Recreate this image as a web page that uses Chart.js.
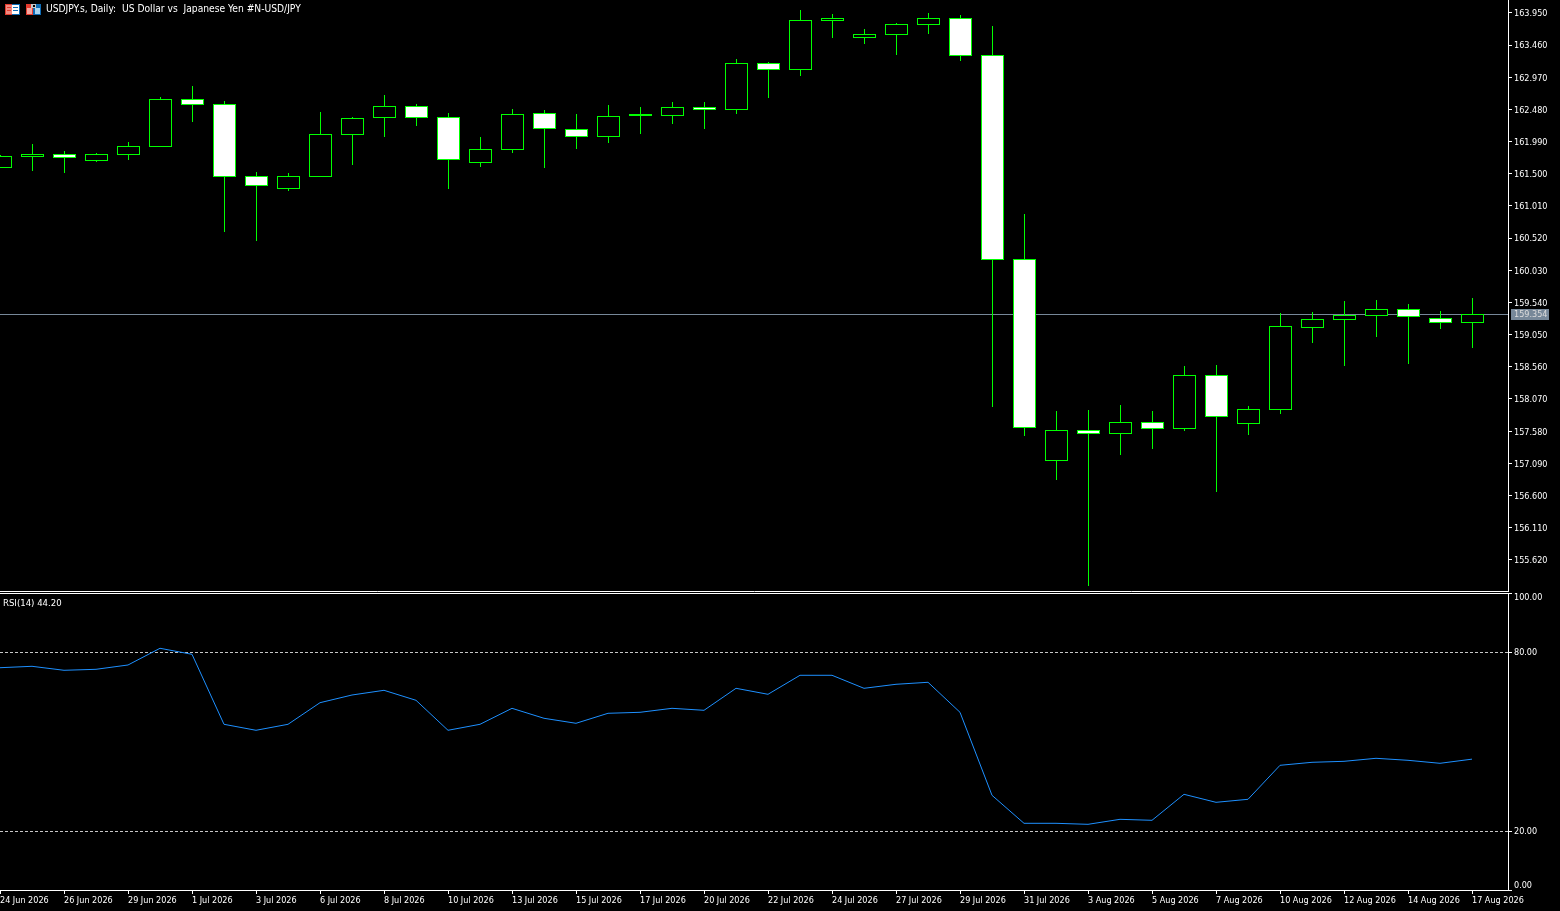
<!DOCTYPE html>
<html>
<head>
<meta charset="utf-8">
<title>USDJPY.s Daily</title>
<script src="https://cdn.jsdelivr.net/npm/chart.js@4"></script>
<style>
  html, body { margin: 0; padding: 0; background: #000; overflow: hidden; }
  #wrap { position: relative; width: 1560px; height: 911px; }
  #wrap div { position: absolute; left: 0; width: 1560px; }
  #pricePane { top: 0; height: 593px; }
  #rsiPane { top: 593px; height: 318px; }
</style>
</head>
<body>
<div id="wrap">
  <div id="pricePane"><canvas id="price"></canvas></div>
  <div id="rsiPane"><canvas id="rsi"></canvas></div>
</div>
<script>
const dates = ['24 Jun 2026','25 Jun 2026','26 Jun 2026','28 Jun 2026','29 Jun 2026','30 Jun 2026',
  '1 Jul 2026','2 Jul 2026','3 Jul 2026','5 Jul 2026','6 Jul 2026','7 Jul 2026','8 Jul 2026','9 Jul 2026','10 Jul 2026',
  '12 Jul 2026','13 Jul 2026','14 Jul 2026','15 Jul 2026','16 Jul 2026','17 Jul 2026','19 Jul 2026','20 Jul 2026',
  '21 Jul 2026','22 Jul 2026','23 Jul 2026','24 Jul 2026','26 Jul 2026','27 Jul 2026','28 Jul 2026','29 Jul 2026',
  '30 Jul 2026','31 Jul 2026','2 Aug 2026','3 Aug 2026','4 Aug 2026','5 Aug 2026','6 Aug 2026','7 Aug 2026',
  '9 Aug 2026','10 Aug 2026','11 Aug 2026','12 Aug 2026','13 Aug 2026','14 Aug 2026','16 Aug 2026','17 Aug 2026'];

const opens = [161.600,161.768,161.798,161.707,161.798,161.920,162.636,162.560,161.463,161.281,161.463,162.103,
  162.362,162.529,162.362,161.677,161.874,162.423,162.179,162.066,162.382,162.386,162.514,162.484,163.184,
  163.093,163.833,163.580,163.626,163.778,163.869,163.306,160.199,157.138,157.595,157.550,157.717,157.626,
  158.433,157.702,157.915,159.164,159.286,159.347,159.438,159.301,159.240];
const closes = [161.768,161.798,161.753,161.798,161.920,162.636,162.560,161.463,161.326,161.463,162.103,162.346,
  162.529,162.362,161.722,161.874,162.407,162.188,162.066,162.377,162.397,162.514,162.477,163.184,163.093,
  163.839,163.869,163.626,163.778,163.869,163.306,160.199,157.635,157.595,157.550,157.717,157.626,158.433,
  157.802,157.915,159.179,159.286,159.347,159.438,159.331,159.240,159.362];
const highs = [161.780,161.955,161.849,161.818,161.986,162.671,162.838,162.610,161.529,161.514,162.442,162.366,
  162.701,162.564,162.427,162.062,162.488,162.473,162.412,162.549,162.519,162.595,162.595,163.250,163.204,
  163.996,163.935,163.706,163.798,163.950,163.920,163.752,160.889,157.889,157.904,157.981,157.889,158.574,
  158.590,157.965,159.382,159.397,159.564,159.580,159.519,159.412,159.610];
const lows = [161.590,161.544,161.514,161.686,161.707,161.920,162.295,160.620,160.483,161.244,161.463,161.635,
  162.062,162.234,161.275,161.609,161.823,161.594,161.884,161.975,162.112,162.264,162.188,162.417,162.660,
  162.995,163.574,163.483,163.315,163.635,163.224,157.955,157.509,156.843,155.229,157.224,157.315,157.589,
  156.660,157.529,157.848,158.929,158.579,159.021,158.609,159.143,158.853];

const rsiValues = [74.91,75.38,74.04,74.37,75.82,81.43,79.41,55.90,53.89,55.90,63.16,65.74,67.32,63.96,53.89,55.90,
  61.27,57.92,56.24,59.60,59.93,61.27,60.60,67.99,65.98,72.36,72.36,67.99,69.34,70.01,59.93,32.05,22.65,22.65,
  22.31,23.99,23.66,32.39,29.70,30.71,42.13,43.14,43.47,44.48,43.81,42.80,44.20];

const priceTicks = [163.95,163.46,162.97,162.48,161.99,161.5,161.01,160.52,160.03,159.54,159.05,158.56,158.07,157.58,157.09,156.6,156.11,155.62];
const rsiTicks = [100,80,20,0];
const rsiLevels = [80,20];
const lastPrice = 159.354;
const lastRsi = '44.20';
const title = 'USDJPY.s, Daily:  US Dollar vs  Japanese Yen #N-USD/JPY';

const GREEN = '#00ff00';
const FONT = '"DejaVu Sans Condensed", "Liberation Sans", sans-serif';
const xMax = 47.125;

Chart.defaults.animation = false;
Chart.defaults.responsive = false;
Chart.defaults.font.family = FONT;
Chart.defaults.font.size = 9;
Chart.defaults.color = '#fff';

function setSize(id, w, h) {
  const c = document.getElementById(id);
  c.width = w; c.height = h;
  c.style.width = w + 'px'; c.style.height = h + 'px';
  return c;
}

// keep the plot area to exact pixels, no room for half labels
function fitScale(s, size) {
  if (s.isHorizontal()) s.height = size; else s.width = size;
  s.paddingTop = s.paddingBottom = s.paddingLeft = s.paddingRight = 0;
}

// MT4 draws on whole pixels, so snap the bars and the flat price line
const snapBars = {
  id: 'snapBars',
  beforeDatasetsDraw(chart) {
    chart.data.datasets.forEach((ds, i) => {
      chart.getDatasetMeta(i).data.forEach(el => {
        if (ds.snap === 'wick') {
          el.x = Math.round(el.x) + 0.5;
          el.y = Math.round(el.y);
          el.base = Math.round(el.base);
        } else if (ds.snap === 'body') {
          el.x = Math.round(el.x) + 0.5;
          el.y = Math.floor(el.y);
          el.base = Math.floor(el.base) + 1;
        } else if (ds.snap === 'flat') {
          el.y = Math.floor(el.y) + 0.5;
        }
      });
    });
  }
};

const priceOverlay = {
  id: 'priceOverlay',
  afterDraw(chart) {
    const ctx = chart.ctx;
    const y = Math.floor(chart.scales.y.getPixelForValue(lastPrice));
    ctx.save();
    // current price tag
    ctx.fillStyle = '#778899';
    ctx.fillRect(1511, y - 5, 38, 11);
    ctx.fillStyle = '#dcdcdc';
    ctx.font = '9px ' + FONT;
    ctx.textBaseline = 'middle';
    ctx.fillText(lastPrice.toFixed(3), 1514, y + 1);
    // title
    ctx.fillStyle = '#fff';
    ctx.font = '10.2px ' + FONT;
    ctx.fillText(title, 46, 9);
    // toolbar icons next to the title
    ctx.fillStyle = '#e53b2e'; ctx.fillRect(5, 4, 7, 11);
    ctx.fillStyle = '#0f6cb5'; ctx.fillRect(12, 4, 8, 11);
    ctx.fillStyle = '#fff';
    ctx.fillRect(6, 5, 13, 9);
    ctx.fillStyle = '#f08a80'; ctx.fillRect(6, 5, 6, 9);
    ctx.fillStyle = '#e53b2e'; ctx.fillRect(7, 7, 4, 1); ctx.fillRect(7, 10, 4, 1);
    ctx.fillStyle = '#0f6cb5'; ctx.fillRect(13, 7, 5, 1); ctx.fillRect(13, 10, 5, 1);
    ctx.fillStyle = '#e53b2e'; ctx.fillRect(26, 4, 7, 11);
    ctx.fillStyle = '#0f6cb5'; ctx.fillRect(33, 4, 8, 11);
    ctx.fillStyle = '#f6a79f'; ctx.fillRect(27, 8, 5, 6);
    ctx.fillStyle = '#a8d4f0'; ctx.fillRect(35, 8, 5, 6);
    ctx.fillStyle = '#c8c8c8'; ctx.fillRect(31, 4, 5, 4);
    ctx.fillStyle = '#000'; ctx.fillRect(33, 5, 2, 2);
    ctx.restore();
  }
};

const rsiOverlay = {
  id: 'rsiOverlay',
  afterDraw(chart) {
    const ctx = chart.ctx;
    ctx.save();
    ctx.fillStyle = '#fff';
    ctx.font = '9.5px ' + FONT;
    ctx.textBaseline = 'middle';
    ctx.fillText('RSI(14) ' + lastRsi, 3, 11);
    ctx.restore();
  }
};

new Chart(setSize('price', 1560, 593), {
  type: 'bar',
  data: {
    datasets: [
      {
        type: 'line',
        snap: 'flat',
        order: 3,
        data: [{ x: 0, y: lastPrice }, { x: xMax, y: lastPrice }],
        borderColor: '#778899',
        borderWidth: 1,
        pointRadius: 0
      },
      {
        snap: 'wick',
        order: 2,
        grouped: false,
        barThickness: 1,
        data: dates.map((d, i) => ({ x: i, y: [lows[i], highs[i]] })),
        backgroundColor: GREEN,
        borderWidth: 0,
        inflateAmount: 0
      },
      {
        snap: 'body',
        order: 1,
        grouped: false,
        barThickness: 23,
        data: dates.map((d, i) => ({ x: i, y: [Math.min(opens[i], closes[i]), Math.max(opens[i], closes[i])] })),
        backgroundColor: opens.map((o, i) => closes[i] >= o ? '#000' : '#fff'),
        borderColor: GREEN,
        borderWidth: 1,
        borderSkipped: false,
        inflateAmount: 0
      }
    ]
  },
  options: {
    maintainAspectRatio: false,
    plugins: { legend: { display: false }, tooltip: { enabled: false } },
    layout: { padding: 0 },
    scales: {
      x: {
        type: 'linear',
        offset: false,
        min: 0,
        max: xMax,
        ticks: { display: false },
        grid: { display: false, drawTicks: false },
        border: { color: '#fff' },
        afterFit: s => fitScale(s, 2)
      },
      y: {
        position: 'right',
        min: 155.146,
        max: 164.146,
        afterBuildTicks: s => { s.ticks = priceTicks.map(v => ({ value: v })); },
        afterFit: s => fitScale(s, 52),
        ticks: { autoSkip: false, padding: 2, labelOffset: 1, callback: v => v.toFixed(3) },
        grid: { drawOnChartArea: false, color: '#fff', tickLength: 4 },
        border: { color: '#fff' }
      }
    }
  },
  plugins: [snapBars, priceOverlay]
});

new Chart(setSize('rsi', 1560, 318), {
  type: 'line',
  data: {
    datasets: [
      {
        data: rsiValues.map((v, i) => ({ x: i, y: v })),
        borderColor: '#1e90ff',
        borderWidth: 1,
        pointRadius: 0,
        tension: 0
      }
    ]
  },
  options: {
    maintainAspectRatio: false,
    plugins: { legend: { display: false }, tooltip: { enabled: false } },
    layout: { padding: 0 },
    scales: {
      x: {
        type: 'linear',
        min: 0,
        max: xMax,
        afterBuildTicks: s => { s.ticks = dates.map((d, i) => ({ value: i })).filter(t => t.value % 2 === 0); },
        afterFit: s => fitScale(s, 21),
        ticks: {
          autoSkip: false,
          maxRotation: 0,
          align: 'start',
          padding: 1,
          callback: v => dates[v]
        },
        grid: { drawOnChartArea: false, color: '#fff', tickLength: 4 },
        border: { color: '#fff' }
      },
      y: {
        position: 'right',
        min: 0.25,
        max: 100,
        afterBuildTicks: s => { s.ticks = rsiTicks.map(v => ({ value: v })); },
        afterFit: s => fitScale(s, 52),
        ticks: {
          autoSkip: false,
          padding: 2,
          font: { lineHeight: 1.1 },
          // the end labels sit inside the pane, a blank line pushes them in
          callback: v => {
            if (v === 100) return [' ', '100.00'];
            if (v === 0) return ['0.00', ' '];
            return v.toFixed(2);
          }
        },
        grid: {
          color: c => rsiLevels.includes(c.tick.value) ? '#c8c8c8' : '#fff',
          tickColor: '#fff',
          tickLength: 4
        },
        border: {
          color: '#fff',
          dash: c => c.tick && rsiLevels.includes(c.tick.value) ? [3, 2] : []
        }
      }
    }
  },
  plugins: [rsiOverlay]
});
</script>
</body>
</html>
